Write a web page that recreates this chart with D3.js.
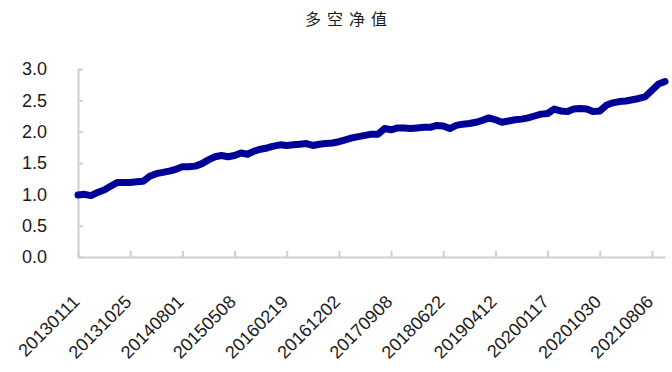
<!DOCTYPE html>
<html>
    <head>
        <meta charset="utf-8">
        <title>多空净值</title>
        <style>
            body { margin: 0; background: #fff; }
            .tick text { font-family: "Liberation Sans", Arial, sans-serif; fill: #1a1a1a; }
        </style>
    </head>

    <body>
        <div id="chart"></div>

        <script src="https://cdn.jsdelivr.net/npm/d3@7/dist/d3.min.js"></script>
        <script>
            var title = "多空净值";

            // x axis labels, one every 8 samples
            var tickLabels = ["20130111", "20131025", "20140801", "20150508", "20160219", "20161202",
                              "20170908", "20180622", "20190412", "20200117", "20201030", "20210806"];

            // net value, sampled every 5 trading weeks
            var navValues = [
                0.99, 1.00, 0.98, 1.03, 1.07, 1.13, 1.19, 1.19, 1.19, 1.20,
                1.21, 1.29, 1.33, 1.35, 1.37, 1.40, 1.44, 1.44, 1.45, 1.49,
                1.55, 1.60, 1.62, 1.60, 1.62, 1.66, 1.64, 1.69, 1.72, 1.74,
                1.77, 1.79, 1.78, 1.79, 1.80, 1.81, 1.78, 1.80, 1.81, 1.82,
                1.84, 1.87, 1.90, 1.92, 1.94, 1.96, 1.96, 2.05, 2.03, 2.06,
                2.06, 2.05, 2.06, 2.07, 2.07, 2.10, 2.09, 2.05, 2.10, 2.12,
                2.13, 2.15, 2.18, 2.22, 2.19, 2.15, 2.17, 2.19, 2.20, 2.22,
                2.25, 2.28, 2.29, 2.36, 2.33, 2.32, 2.36, 2.37, 2.36, 2.32,
                2.33, 2.42, 2.46, 2.48, 2.49, 2.51, 2.53, 2.56, 2.66, 2.76,
                2.80
            ];

            var yTicks = [0, 0.5, 1.0, 1.5, 2.0, 2.5, 3.0];
            var labelStep = 8;

            var width = 672, height = 372;
            var margin = { top: 69, right: 7, bottom: 115, left: 78 };

            var svg = d3.select("#chart").append("svg")
                .attr("width", width)
                .attr("height", height);

            var x = d3.scaleLinear()
                .domain([0, navValues.length - 1])
                .range([margin.left, width - margin.right]);

            var y = d3.scaleLinear()
                .domain([0, 3])
                .range([height - margin.bottom, margin.top]);

            svg.append("text")
                .attr("x", 349)
                .attr("y", 25)
                .attr("text-anchor", "middle")
                .style("font-family", "'Noto Sans CJK SC', sans-serif")
                .style("font-size", "16px")
                .style("letter-spacing", "6px")
                .style("fill", "#1a1a1a")
                .text(title);

            // y axis
            var yAxis = svg.append("g")
                .attr("transform", "translate(" + margin.left + ",0)")
                .call(d3.axisLeft(y)
                    .tickValues(yTicks)
                    .tickFormat(d3.format(".1f"))
                    .tickSizeInner(-5)
                    .tickSizeOuter(0)
                    .tickPadding(31));
            yAxis.selectAll("text").style("font-size", "18px");

            // x axis
            var xAxis = svg.append("g")
                .attr("transform", "translate(0," + (height - margin.bottom) + ")")
                .call(d3.axisBottom(x)
                    .tickValues(tickLabels.map(function(d, i) { return i * labelStep; }))
                    .tickFormat(function(d) { return tickLabels[d / labelStep]; })
                    .tickSizeInner(-6)
                    .tickSizeOuter(0));
            xAxis.selectAll("text")
                .style("font-size", "18px")
                .attr("text-anchor", "end")
                .attr("dy", null)
                .attr("y", null)
                .attr("transform", "translate(2,46) rotate(-45)");

            svg.selectAll(".domain, .tick line")
                .attr("stroke", "#cfcfcf")
                .attr("stroke-width", 2);

            var line = d3.line()
                .x(function(d, i) { return x(i); })
                .y(function(d) { return y(d); });

            svg.append("path")
                .datum(navValues)
                .attr("fill", "none")
                .attr("stroke", "#000096")
                .attr("stroke-width", 7)
                .attr("stroke-linejoin", "round")
                .attr("stroke-linecap", "round")
                .attr("d", line);
        </script>
    </body>
</html>
